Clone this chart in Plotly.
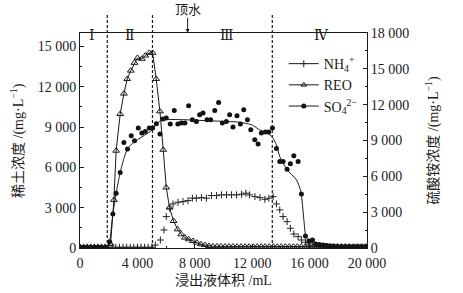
import plotly.graph_objects as go

# ---------------- data ----------------
reo_x = [0, 250, 500, 750, 1000, 1250, 1500, 1750,
         2130, 2360, 2520, 2800, 3060, 3290, 3540, 3800, 4010, 4310, 4550, 4830, 5060,
         5310, 5570, 5800, 6010, 6240, 6520, 6800, 7060, 7310, 7570, 7870, 8150, 8430,
         8710, 8990, 9270, 9550, 9830, 10110, 10390, 10670, 10950, 11230, 11510, 11790,
         12070, 12350, 12630, 12910, 13190, 13470, 13750, 14030, 14310, 14590, 14870,
         15150, 15430, 15710, 15990, 16270, 16550, 16830, 17110, 17390, 17670, 17950,
         18230, 18510, 18790, 19070, 19350, 19630, 19910]
reo_y = [60, 60, 60, 60, 60, 60, 60, 60,
         300, 3580, 7240, 9970, 11490, 12580, 13200, 13780, 14150, 14080, 14320, 14520, 14520,
         12580, 10170, 7310, 4500, 3010, 2010, 1390, 1020, 770, 650, 520, 400, 280,
         220, 150, 130, 120, 120, 110, 110, 110, 100, 100, 100, 100,
         100, 100, 100, 100, 100, 100, 100, 100, 100, 100, 100,
         100, 100, 100, 100, 100, 100, 100, 100, 100, 100, 100,
         100, 100, 100, 100, 100, 100, 100]

nh4_x = [0, 250, 500, 750, 1000, 1250, 1500, 1750, 2000, 2250, 2500, 2750, 3000, 3250,
         3500, 3750, 4000, 4250, 4500, 4750, 5000,
         5250, 5600, 5850, 6010, 6250, 6480, 6830, 7180, 7530, 7830, 8110, 8460, 8810,
         9160, 9510, 9860, 10210, 10560, 10910, 11260, 11560, 11820, 12190, 12540, 12880,
         13160, 13460, 13690, 13920, 14150, 14430, 14660, 14900, 15200, 15430, 15710,
         15950, 16230, 16500, 16780, 17060, 17340, 17620, 17900, 18180, 18460, 18740,
         19020, 19300, 19580, 19860]
nh4_y = [60, 60, 60, 60, 60, 60, 60, 60, 60, 60, 60, 60, 60, 60,
         60, 60, 60, 60, 60, 60, 60,
         250, 670, 1510, 2630, 3330, 3690, 3830, 3890, 3970, 4170, 4170, 4220, 4170,
         4390, 4390, 4450, 4450, 4450, 4450, 4500, 4590, 4450, 4300, 4220, 4080,
         4170, 4300, 3690, 3190, 2630, 2210, 1650, 1170, 950, 670, 480,
         340, 170, 100, 80, 70, 60, 60, 60, 60, 60, 60,
         60, 60, 60, 60]

so4_x = [0, 250, 500, 750, 1000, 1250, 1500, 1750,
         2060, 2290, 2520, 2800, 3060, 3310, 3570, 3800, 4060, 4310, 4550, 4830, 5060,
         5320, 5570, 5780, 6010, 6290, 6570, 6820, 7060, 7310, 7570, 7830, 8110, 8340,
         8570, 8850, 9100, 9390, 9660, 9920, 10200, 10430, 10660, 10940, 11180, 11410,
         11670, 11900, 12180, 12410, 12640, 12920, 13150, 13410, 13690, 13920, 14150,
         14430, 14660, 14900, 15200, 15430, 15710, 15950, 16200, 16430, 16680, 16940,
         17190, 17450, 17700, 17950, 18200, 18450, 18700, 18950, 19200, 19450, 19700, 19950]
so4_y = [60, 60, 60, 60, 60, 60, 60, 60,
         530, 2850, 4590, 6320, 8830, 8280, 9400, 8980, 10040, 9620, 9760, 10040, 10040,
         10400, 9540, 10800, 10880, 10380, 11520, 10380, 10460, 10460, 11910, 10740, 10600, 11160,
         11300, 10740, 10740, 11520, 12190, 10460, 10600, 11160, 10130, 11070, 10380, 11580,
         10740, 9900, 9060, 8700, 9620, 9710, 9710, 10040, 8340, 7240, 7240,
         6600, 7050, 7720, 7240, 4530, 1010, 590, 670, 340, 300, 250,
         200, 170, 150, 130, 120, 110, 100, 100, 100, 100, 100, 100]

# fitted curve for SO4
fit_x = [0, 1900, 2060, 2290, 2520, 2800, 3060, 3300, 3600, 4000, 4500, 5000, 5300, 5600,
         6000, 7000, 8000, 9000, 10000, 11000, 11500, 12000, 12500, 13000, 13400, 13700,
         13920, 14430, 15090, 15390, 15600, 15740, 16010, 16500, 17000, 18000, 19000, 20000]
fit_y = [0, 0, 500, 2850, 4590, 6320, 7500, 8280, 8700, 9050, 9450, 9850, 10350, 10650,
         10750, 10750, 10700, 10650, 10600, 10550, 10450, 10300, 9900, 9650, 9300, 8600,
         7660, 6540, 5700, 4720, 2350, 950, 530, 350, 250, 180, 130, 100]

x_ticks = [0, 4000, 8000, 12000, 16000, 20000]
x_tick_text = ["0", "4 000", "8 000", "12 000", "16 000", "20 000"]
yl_ticks = [0, 3000, 6000, 9000, 12000, 15000]
yl_tick_text = ["0", "3 000", "6 000", "9 000", "12 000", "15 000"]
yr_ticks = [0, 3000, 6000, 9000, 12000, 15000, 18000]
yr_tick_text = ["0", "3 000", "6 000", "9 000", "12 000", "15 000", "18 000"]

stage_x = [870, 3450, 10220, 16850]
stage_labels = ["Ⅰ", "Ⅱ", "Ⅲ", "Ⅳ"]
divider_x = [1900, 5050, 13400]
water_x = 7500

series_names = ["NH<sub>4</sub><sup>+</sup>", "REO", "SO<sub>4</sub><sup>2−</sup>"]

FONT = "Liberation Serif, Noto Sans CJK SC, serif"
INK = "#1a1a1a"

fig = go.Figure()

plus_marker = dict(symbol="cross-thin", size=5, line=dict(width=1, color="#222"))
tri_marker = dict(symbol="triangle-up-open", size=6, color=INK, line=dict(width=1, color=INK))
dot_marker = dict(symbol="circle", size=5, color="#111")

fig.add_trace(go.Scatter(x=nh4_x, y=nh4_y, yaxis="y2", mode="markers",
                         marker=plus_marker, showlegend=False))
fig.add_trace(go.Scatter(x=reo_x, y=reo_y, mode="lines+markers", showlegend=False,
                         line=dict(color=INK, width=1), marker=tri_marker))
fig.add_trace(go.Scatter(x=so4_x, y=so4_y, yaxis="y2", mode="markers",
                         marker=dot_marker, showlegend=False))
fig.add_trace(go.Scatter(x=fit_x, y=fit_y, yaxis="y2", mode="lines", showlegend=False,
                         line=dict(color=INK, width=1, shape="spline", smoothing=0.6),
                         hoverinfo="skip"))

# legend entries (line + marker + line)
for nm, mk in zip(series_names, [plus_marker, dict(tri_marker, size=5), dict(dot_marker, size=5)]):
    fig.add_trace(go.Scatter(x=[None], y=[None], name=nm, mode="lines+markers",
                             line=dict(color=INK, width=1), marker=mk))

axis_common = dict(
    showline=True, linecolor=INK, linewidth=1, ticks="inside", ticklen=4,
    tickcolor=INK, tickfont=dict(family=FONT, size=14, color=INK),
    showgrid=False, zeroline=False, automargin=False,
)

fig.update_layout(
    width=463, height=293,
    margin=dict(l=80, r=96, t=33, b=45),
    paper_bgcolor="white", plot_bgcolor="white",
    font=dict(family=FONT, size=14, color=INK),
    xaxis=dict(
        range=[0, 20000], tickvals=x_ticks, ticktext=x_tick_text, mirror=True,
        minor=dict(dtick=2000, ticks="inside", ticklen=2, tickcolor=INK),
        ticklabelstandoff=2,
        **axis_common,
    ),
    yaxis=dict(
        range=[0, 16000], tickvals=yl_ticks, ticktext=yl_tick_text,
        minor=dict(dtick=1500, ticks="inside", ticklen=2, tickcolor=INK),
        **axis_common,
    ),
    yaxis2=dict(
        range=[0, 18000], tickvals=yr_ticks, ticktext=yr_tick_text, overlaying="y", side="right",
        minor=dict(dtick=1500, ticks="inside", ticklen=2, tickcolor=INK),
        **axis_common,
    ),
    legend=dict(
        x=0.71, y=0.93, xanchor="left", yanchor="top", bgcolor="rgba(0,0,0,0)",
        font=dict(family=FONT, size=14, color=INK), tracegroupgap=0, itemwidth=30,
    ),
    showlegend=True,
)

# axis titles
fig.add_annotation(x=0.5, y=-0.149, xref="paper", yref="paper", text="浸出液体积 /mL",
                   xanchor="center", yanchor="middle",
                   showarrow=False, font=dict(family=FONT, size=14, color=INK))
fig.add_annotation(x=-0.218, y=0.5, xref="paper", yref="paper",
                   text="稀土浓度 /(mg·L<sup>−1</sup>)", textangle=-90,
                   xanchor="center", yanchor="middle",
                   showarrow=False, font=dict(family=FONT, size=14, color=INK))
fig.add_annotation(x=1.227, y=0.5, xref="paper", yref="paper",
                   text="硫酸铵浓度 /(mg·L<sup>−1</sup>)", textangle=-90,
                   xanchor="center", yanchor="middle",
                   showarrow=False, font=dict(family=FONT, size=14, color=INK))

for xv in divider_x:
    fig.add_shape(type="line", xref="x", yref="paper", x0=xv, x1=xv, y0=0, y1=1.086,
                  line=dict(color=INK, width=1.2, dash="3px,2px"))

for xv, lab in zip(stage_x, stage_labels):
    fig.add_annotation(x=xv, y=1.035, xref="x", yref="paper", text=lab, showarrow=False,
                       font=dict(family="DejaVu Serif, Noto Sans CJK SC, serif", size=14, color=INK))

fig.add_annotation(x=water_x, y=1.0, xref="x", yref="paper", text="顶水", showarrow=True,
                   ax=0, ay=-24, arrowhead=2, arrowsize=0.8, arrowwidth=1, arrowcolor=INK,
                   font=dict(family=FONT, size=13, color=INK))

fig.write_html("out.html", config={"displayModeBar": False},
               post_script="document.body.style.margin='0';document.body.style.padding='0';")
